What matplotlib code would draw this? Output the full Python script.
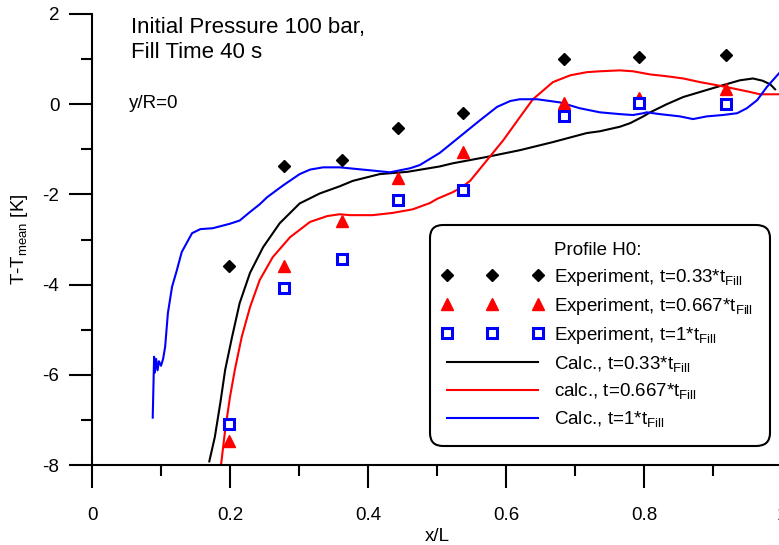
import matplotlib
matplotlib.use("Agg")
import matplotlib.pyplot as plt
from matplotlib.lines import Line2D
from matplotlib.legend_handler import HandlerLine2D
from matplotlib.ticker import MultipleLocator, FuncFormatter

plt.rcParams["font.family"] = ["Liberation Sans", "DejaVu Sans"]
plt.rcParams["mathtext.fontset"] = "custom"
plt.rcParams["mathtext.rm"] = "Liberation Sans"
plt.rcParams["mathtext.default"] = "regular"
plt.rcParams["axes.unicode_minus"] = False

# experiment, profile H0
exp_x = [0.199, 0.278, 0.362, 0.443, 0.538, 0.684, 0.793, 0.919]
exp_t033 = [-3.59, -1.37, -1.24, -0.53, -0.20, 1.00, 1.04, 1.09]
exp_t067 = [-7.46, -3.59, -2.59, -1.64, -1.07, 0.02, 0.13, 0.33]
exp_t100 = [-7.09, -4.08, -3.44, -2.13, -1.90, -0.26, 0.02, 0.00]

# calculation, t=0.33*tFill
calc_x033 = [0.170, 0.178, 0.186, 0.193, 0.203, 0.214, 0.229, 0.248, 0.272, 0.301,
             0.330, 0.359, 0.378, 0.417, 0.457, 0.504, 0.523, 0.572, 0.620, 0.668,
             0.717, 0.736, 0.765, 0.780, 0.799, 0.809, 0.833, 0.857, 0.881, 0.914,
             0.939, 0.958, 0.972, 0.983, 0.990]
calc_t033 = [-7.92, -7.38, -6.62, -5.89, -5.16, -4.41, -3.74, -3.17, -2.64, -2.20,
             -1.98, -1.82, -1.70, -1.55, -1.50, -1.38, -1.31, -1.17, -1.02, -0.84,
             -0.64, -0.60, -0.50, -0.42, -0.27, -0.18, 0.00, 0.16, 0.27, 0.42,
             0.53, 0.57, 0.52, 0.44, 0.33]

# calculation, t=0.667*tFill
calc_x067 = [0.187, 0.193, 0.200, 0.207, 0.217, 0.229, 0.243, 0.262, 0.287, 0.316,
             0.341, 0.359, 0.374, 0.407, 0.436, 0.465, 0.490, 0.500, 0.523, 0.536,
             0.548, 0.572, 0.596, 0.620, 0.639, 0.668, 0.693, 0.717, 0.736, 0.765,
             0.784, 0.809, 0.833, 0.857, 0.881, 0.906, 0.929, 0.954, 0.968, 0.996]
calc_t067 = [-8.00, -7.22, -6.49, -5.89, -5.16, -4.50, -3.90, -3.39, -2.95, -2.61,
             -2.48, -2.44, -2.46, -2.46, -2.41, -2.33, -2.19, -2.10, -1.95, -1.84,
             -1.70, -1.25, -0.80, -0.29, 0.11, 0.49, 0.64, 0.71, 0.73, 0.75,
             0.73, 0.66, 0.62, 0.57, 0.49, 0.42, 0.35, 0.27, 0.22, 0.22]

# calculation, t=1*tFill
calc_x100 = [0.088, 0.090, 0.091, 0.093, 0.095, 0.097, 0.100, 0.103, 0.106, 0.110,
             0.116, 0.123, 0.130, 0.145, 0.157, 0.175, 0.200, 0.214, 0.229, 0.243,
             0.254, 0.277, 0.301, 0.316, 0.335, 0.359, 0.399, 0.432, 0.461, 0.475,
             0.504, 0.533, 0.562, 0.587, 0.606, 0.620, 0.645, 0.678, 0.707, 0.736,
             0.765, 0.784, 0.799, 0.804, 0.823, 0.852, 0.871, 0.891, 0.914, 0.935,
             0.949, 0.964, 0.978, 0.993, 0.996]
calc_t100 = [-6.95, -5.60, -5.95, -5.65, -5.90, -5.70, -5.80, -5.65, -5.38, -4.63,
             -4.05, -3.68, -3.28, -2.86, -2.77, -2.75, -2.65, -2.58, -2.39, -2.22,
             -2.06, -1.80, -1.55, -1.45, -1.40, -1.40, -1.46, -1.51, -1.42, -1.35,
             -1.08, -0.72, -0.36, -0.06, 0.07, 0.11, 0.11, 0.04, -0.09, -0.18,
             -0.22, -0.24, -0.20, -0.18, -0.22, -0.27, -0.33, -0.27, -0.24, -0.20,
             -0.09, 0.09, 0.38, 0.64, 0.69]

fig = plt.figure(figsize=(7.79, 5.45), dpi=100)
ax = fig.add_axes([92 / 779, 80 / 545, 690 / 779, 451 / 545])

c033, = ax.plot(calc_x033, calc_t033, color="black", lw=1.5)
c067, = ax.plot(calc_x067, calc_t067, color="red", lw=1.5)
c100, = ax.plot(calc_x100, calc_t100, color="blue", lw=1.5)

e033, = ax.plot(exp_x, exp_t033, ls="none", marker="D", ms=6.3, color="black")
e067, = ax.plot(exp_x, exp_t067, ls="none", marker="^", ms=8.5, color="red")
e100, = ax.plot(exp_x, exp_t100, ls="none", marker="s", ms=6.5, mfc="white",
                mec="blue", mew=2.2)

ax.set_xlim(0, 1)
ax.set_ylim(-8, 2)
ax.spines["top"].set_visible(False)
ax.spines["right"].set_visible(False)
ax.spines["left"].set_linewidth(1.5)
ax.spines["bottom"].set_linewidth(1.5)

ax.xaxis.set_major_locator(MultipleLocator(0.2))
ax.xaxis.set_minor_locator(MultipleLocator(0.1))
ax.yaxis.set_major_locator(MultipleLocator(2))
ax.yaxis.set_minor_locator(MultipleLocator(1))
ax.xaxis.set_major_formatter(FuncFormatter(lambda v, p: "%g" % v))
ax.yaxis.set_major_formatter(FuncFormatter(lambda v, p: "%g" % v))
ax.tick_params(which="major", length=16.5, width=1.5, labelsize=13.5)
ax.tick_params(which="minor", length=8, width=1.5)
ax.tick_params(axis="x", which="major", pad=13.5)
ax.tick_params(axis="y", which="major", pad=7)

ax.set_xlabel("x/L", fontsize=13.5, labelpad=3)
ax.set_ylabel("T-T$_{mean}$ [K]", fontsize=13.5, labelpad=9)

ax.text(0.0565, 1.71, "Initial Pressure 100 bar,", fontsize=16, va="center")
ax.text(0.0565, 1.155, "Fill Time 40 s", fontsize=16, va="center")
ax.text(0.0536, 0.02, "y/R=0", fontsize=13.5, va="center")

title_handle = Line2D([], [], color="none")
handles = [title_handle, e033, e067, e100, c033, c067, c100]
labels = ["Profile H0:",
          "Experiment, t=0.33*t$_{Fill}$",
          "Experiment, t=0.667*t$_{Fill}$",
          "Experiment, t=1*t$_{Fill}$",
          "Calc., t=0.33*t$_{Fill}$",
          "calc., t=0.667*t$_{Fill}$",
          "Calc., t=1*t$_{Fill}$"]
leg = ax.legend(handles, labels, loc="upper left",
                bbox_to_anchor=(430 / 779, 1 - 225 / 545),
                bbox_transform=fig.transFigure, borderaxespad=0,
                numpoints=3, handlelength=4.85, handletextpad=0.85,
                borderpad=0.9, labelspacing=0.42, fontsize=13.5,
                frameon=True, fancybox=True, framealpha=1,
                edgecolor="black",
                handler_map={Line2D: HandlerLine2D(marker_pad=0)})
leg.get_frame().set_linewidth(1.5)
leg.get_frame().set_boxstyle("round", pad=0, rounding_size=0.7)

fig.savefig("out.png", dpi=100)
